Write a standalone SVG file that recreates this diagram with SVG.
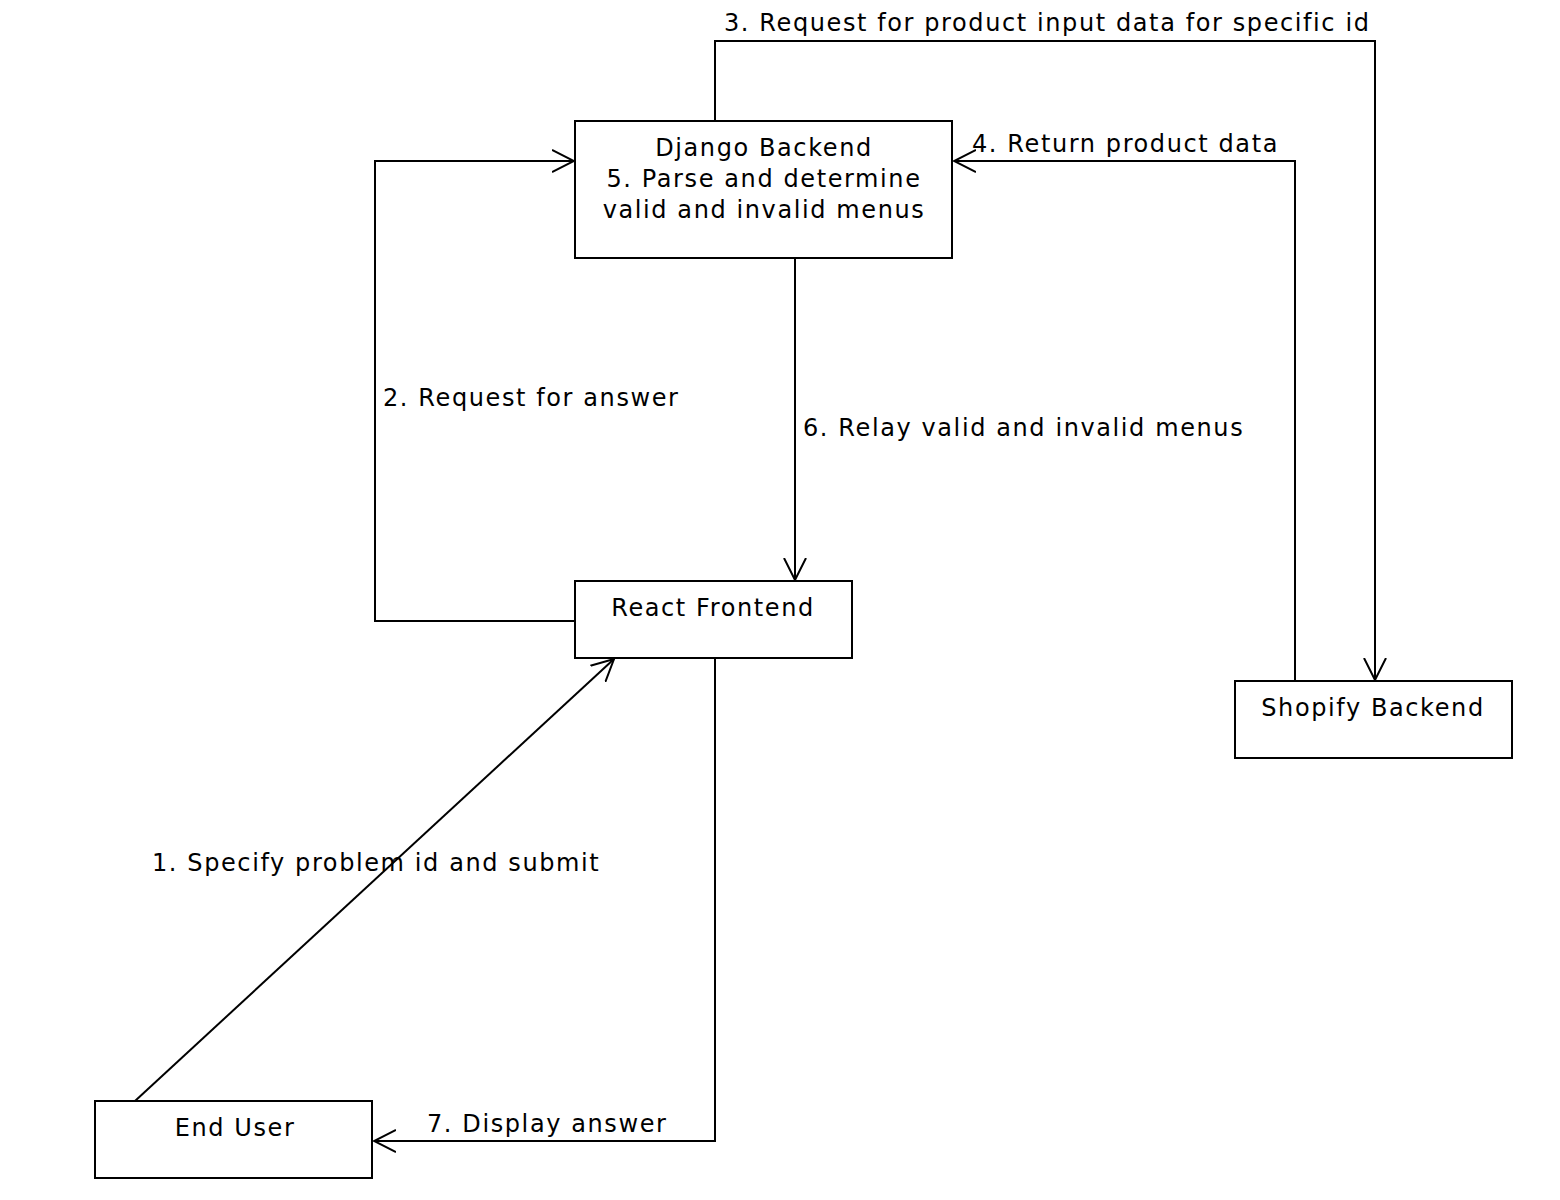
<svg xmlns="http://www.w3.org/2000/svg" width="1560" height="1200" viewBox="0 0 1560 1200">
<style>
.box{fill:#fff;stroke:#000;stroke-width:2}
.t{font-family:"DejaVu Sans","Liberation Sans",sans-serif;font-size:24px;letter-spacing:1.6px;fill:#000}
.c{text-anchor:middle}
.ln{fill:none;stroke:#000;stroke-width:2}
</style>
<defs>
<marker id="arr" viewBox="0 0 24 24" refX="22" refY="12" markerWidth="24" markerHeight="24" markerUnits="userSpaceOnUse" orient="auto">
<path d="M0,1 L22,12 L0,23" fill="none" stroke="#000" stroke-width="2"/>
</marker>
</defs>
<rect width="1560" height="1200" fill="#fff"/>
<g id="connectors">
<polyline class="ln" points="715,121 715,41 1375,41 1375,680" marker-end="url(#arr)"/>
<polyline class="ln" points="1295,681 1295,161 954,161" marker-end="url(#arr)"/>
<polyline class="ln" points="575,621 375,621 375,161 574,161" marker-end="url(#arr)"/>
<polyline class="ln" points="795,258 795,580" marker-end="url(#arr)"/>
<polyline class="ln" points="135,1101 614,659" marker-end="url(#arr)"/>
<polyline class="ln" points="715,658 715,1141 374,1141" marker-end="url(#arr)"/>
<text class="t" x="724" y="31">3. Request for product input data for specific id</text>
<text class="t" x="972" y="152">4. Return product data</text>
<text class="t" x="383" y="406">2. Request for answer</text>
<text class="t" x="803" y="436">6. Relay valid and invalid menus</text>
<text class="t" x="152" y="871">1. Specify problem id and submit</text>
<text class="t" x="427" y="1132">7. Display answer</text>
</g>
<g id="django">
<rect class="box" x="575" y="121" width="377" height="137"/>
<text class="t c" x="764" y="156">Django Backend</text>
<text class="t c" x="764" y="187">5. Parse and determine</text>
<text class="t c" x="764" y="218">valid and invalid menus</text>
</g>
<g id="react">
<rect class="box" x="575" y="581" width="277" height="77"/>
<text class="t c" x="713" y="616">React Frontend</text>
</g>
<g id="shopify">
<rect class="box" x="1235" y="681" width="277" height="77"/>
<text class="t c" x="1373" y="716">Shopify Backend</text>
</g>
<g id="enduser">
<rect class="box" x="95" y="1101" width="277" height="77"/>
<text class="t c" x="235" y="1136">End User</text>
</g>
</svg>
